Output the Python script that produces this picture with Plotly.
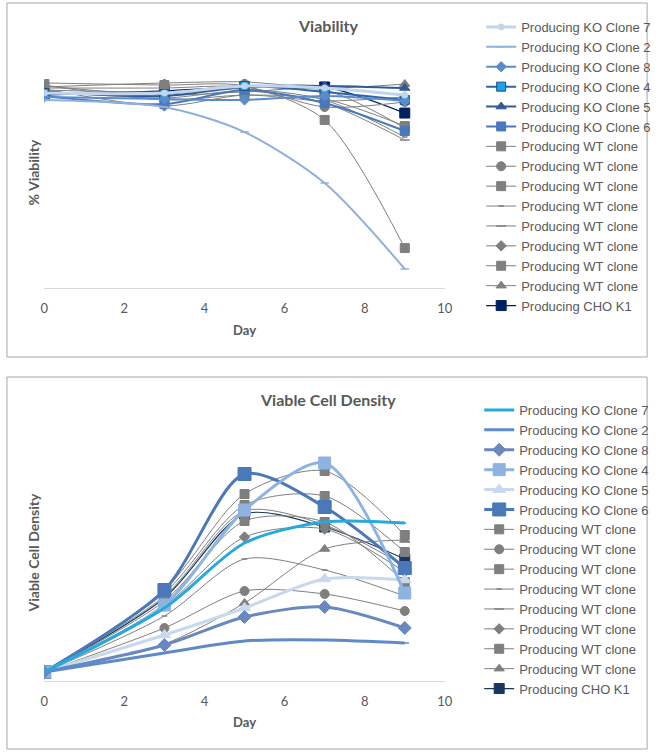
import plotly.graph_objects as go

# day axis shared by both charts
days = [0, 3, 5, 7, 9]

names = [
    "Producing KO Clone 7", "Producing KO Clone 2", "Producing KO Clone 8",
    "Producing KO Clone 4", "Producing KO Clone 5", "Producing KO Clone 6",
    "Producing WT clone", "Producing WT clone", "Producing WT clone",
    "Producing WT clone", "Producing WT clone", "Producing WT clone",
    "Producing WT clone", "Producing WT clone", "Producing CHO K1",
]

# % viability (no axis labels in original)
via_ko7 = [93.3, 93.3, 96.7, 95.7, 92.3]
via_ko2 = [90.0, 86.6, 74.6, 50.2, 9.1]
via_ko8 = [91.4, 90.4, 90.0, 91.9, 89.5]
via_ko4 = [93.3, 92.8, 96.7, 93.8, 90.0]
via_ko5 = [93.8, 91.9, 96.2, 96.7, 95.7]
via_ko6 = [91.9, 88.0, 94.7, 88.5, 75.1]
via_wt1 = [98.1, 97.1, 96.7, 80.4, 19.1]
via_wt2 = [95.7, 95.7, 96.2, 86.6, 89.0]
via_wt3 = [96.7, 92.3, 93.8, 94.7, 76.6]
via_wt4 = [94.7, 93.8, 95.2, 90.0, 72.2]
via_wt5 = [94.3, 90.9, 94.3, 88.5, 70.8]
via_wt6 = [95.2, 87.1, 92.3, 89.5, 91.4]
via_wt7 = [97.1, 90.0, 92.3, 90.4, 77.5]
via_wt8 = [96.2, 98.1, 98.6, 95.7, 97.6]
via_cho = [92.3, 94.3, 96.2, 96.2, 83.7]

# viable cell density (arbitrary units)
vcd_ko7 = [0.9, 7.3, 13.8, 15.9, 15.8]
vcd_ko2 = [0.9, 2.8, 4.0, 4.1, 3.8]
vcd_ko8 = [0.9, 3.6, 6.4, 7.4, 5.3]
vcd_ko4 = [0.9, 7.6, 17.1, 21.8, 8.8]
vcd_ko5 = [0.9, 4.6, 7.3, 10.2, 10.1]
vcd_ko6 = [0.9, 9.1, 20.7, 17.4, 11.3]
vcd_wt1 = [0.9, 9.1, 18.7, 21.0, 14.6]
vcd_wt2 = [0.9, 5.3, 9.0, 8.7, 7.0]
vcd_wt3 = [0.9, 8.8, 17.6, 18.5, 12.9]
vcd_wt4 = [0.9, 6.5, 12.2, 11.1, 8.5]
vcd_wt5 = [0.9, 8.5, 17.0, 15.6, 11.5]
vcd_wt6 = [0.9, 7.5, 14.4, 15.2, 10.9]
vcd_wt7 = [0.9, 8.0, 16.0, 15.9, 9.9]
vcd_wt8 = [0.9, 3.7, 7.8, 13.2, 14.1]
vcd_cho = [0.9, 8.3, 16.7, 15.4, 12.2]

via_data = [via_ko7, via_ko2, via_ko8, via_ko4, via_ko5, via_ko6,
            via_wt1, via_wt2, via_wt3, via_wt4, via_wt5, via_wt6, via_wt7, via_wt8,
            via_cho]
vcd_data = [vcd_ko7, vcd_ko2, vcd_ko8, vcd_ko4, vcd_ko5, vcd_ko6,
            vcd_wt1, vcd_wt2, vcd_wt3, vcd_wt4, vcd_wt5, vcd_wt6, vcd_wt7, vcd_wt8,
            vcd_cho]

GRAY = "#7f7f7f"
TXT = "#595959"
FONT = "Lato"
LEG_FONT = "Liberation Sans"

# style per series: (line color, width, marker symbol, marker size, marker fill, marker border)
via_style = [
    ("#c2d5ec", 3, "circle", 6, "#c2d5ec", "#c2d5ec"),
    ("#8fb0dc", 2, "line-ew", 6, "#8fb0dc", "#8fb0dc"),
    ("#5a8ccc", 2, "diamond", 8, "#5a8ccc", "#5a8ccc"),
    ("#2c66a8", 2, "square", 9, "#1aa3e8", "#1f4e79"),
    ("#2f5a96", 2, "triangle-up", 9, "#2f5a96", "#2f5a96"),
    ("#4a78bc", 2, "square", 9, "#4a78bc", "#4a78bc"),
    (GRAY, 1, "square", 9, GRAY, GRAY),
    (GRAY, 1, "circle", 9, GRAY, GRAY),
    (GRAY, 1, "square", 9, GRAY, GRAY),
    (GRAY, 1, "line-ew", 4, GRAY, GRAY),
    (GRAY, 1, "line-ew", 7, GRAY, GRAY),
    (GRAY, 1, "diamond", 8, GRAY, GRAY),
    (GRAY, 1, "square", 9, GRAY, GRAY),
    (GRAY, 1, "triangle-up", 9, GRAY, GRAY),
    ("#002060", 1.2, "square", 10, "#002060", "#002060"),
]

vcd_style = [
    ("#28a9dc", 3, "line-ew", 2, "#28a9dc", "#28a9dc"),
    ("#5f8ac8", 3, "line-ew", 6, "#5f8ac8", "#5f8ac8"),
    ("#6a88c0", 3, "diamond", 10, "#6a88c0", "#6a88c0"),
    ("#8fb3e0", 3, "square", 12, "#8fb3e0", "#8fb3e0"),
    ("#c8d8ee", 3, "triangle-up", 11, "#c8d8ee", "#c8d8ee"),
    ("#4a78b8", 3, "square", 13, "#4a78b8", "#4a78b8"),
    (GRAY, 1, "square", 9, GRAY, GRAY),
    (GRAY, 1, "circle", 9, GRAY, GRAY),
    (GRAY, 1, "square", 9, GRAY, GRAY),
    (GRAY, 1, "line-ew", 4, GRAY, GRAY),
    (GRAY, 1, "line-ew", 7, GRAY, GRAY),
    (GRAY, 1, "diamond", 8, GRAY, GRAY),
    (GRAY, 1, "square", 9, GRAY, GRAY),
    (GRAY, 1, "triangle-up", 9, GRAY, GRAY),
    ("#17375e", 1.2, "square", 10, "#17375e", "#17375e"),
]

fig = go.Figure()

def add_series(data, styles, xa, ya, leg):
    # draw back to front so the first series end up on top like Excel
    order = list(range(len(data)))[::-1]
    for i in order:
        col, w, sym, sz, fill, border = styles[i]
        fig.add_trace(go.Scatter(
            x=days, y=data[i], name=names[i],
            mode="lines+markers",
            line=dict(color=col, width=w, shape="spline", smoothing=0.8),
            marker=dict(symbol=sym, size=sz, color=fill,
                        line=dict(color=border, width=1.5 if sym == "line-ew" else 1)),
            xaxis=xa, yaxis=ya, legend=leg, legendrank=i,
        ))

add_series(via_data, via_style, "x", "y", "legend")
add_series(vcd_data, vcd_style, "x2", "y2", "legend2")

W, H = 660, 752

def px(x):
    return x / W

def py(y):
    return 1 - y / H

axis_x = dict(range=[0, 10], dtick=2, showgrid=False, zeroline=False,
              showline=True, linecolor="#d9d9d9", linewidth=1, ticks="",
              ticklabelstandoff=8,
              tickfont=dict(family=FONT, size=13, color=TXT))
axis_y = dict(showgrid=False, zeroline=False, showline=False,
              showticklabels=False, ticks="")

legend_common = dict(font=dict(family=LEG_FONT, size=13, color=TXT),
                     bgcolor="rgba(0,0,0,0)", traceorder="normal",
                     xanchor="left", yanchor="top", itemwidth=30,
                     tracegroupgap=0)

def label(text, x, y, size, angle=0):
    return dict(text=text, x=px(x), y=py(y), xref="paper", yref="paper",
                xanchor="center", yanchor="middle", showarrow=False,
                textangle=angle, font=dict(family=FONT, size=size, color=TXT))

fig.update_layout(
    width=W, height=H,
    margin=dict(l=0, r=0, t=0, b=0),
    paper_bgcolor="white", plot_bgcolor="white",
    xaxis=dict(axis_x, domain=[px(41), px(449)], anchor="y"),
    yaxis=dict(axis_y, range=[0, 100], domain=[py(288), py(79)], anchor="x"),
    xaxis2=dict(axis_x, domain=[px(41), px(449)], anchor="y2"),
    yaxis2=dict(axis_y, range=[0, 26], domain=[py(681), py(421)], anchor="x2"),
    legend=dict(legend_common, x=px(486), y=py(12)),
    legend2=dict(legend_common, x=px(484), y=py(395)),
    shapes=[
        dict(type="rect", xref="paper", yref="paper",
             x0=px(3), x1=px(655), y0=py(357), y1=py(3),
             line=dict(color="#a6a6a6", width=1)),
        dict(type="rect", xref="paper", yref="paper",
             x0=px(3), x1=px(655), y0=py(749), y1=py(377),
             line=dict(color="#a6a6a6", width=1)),
    ],
    annotations=[
        label("<b>Viability</b>", 330, 26, 16),
        label("<b>Day</b>", 245, 330, 13),
        label("<b>% Viability</b>", 31, 172, 14, -90),
        label("<b>Viable Cell Density</b>", 330, 399, 16),
        label("<b>Day</b>", 245, 722, 13),
        label("<b>Viable Cell Density</b>", 30, 553, 14, -90),
    ],
)

fig.write_html("out.html", config={"displayModeBar": False},
               post_script="document.body.style.margin='0px';")
